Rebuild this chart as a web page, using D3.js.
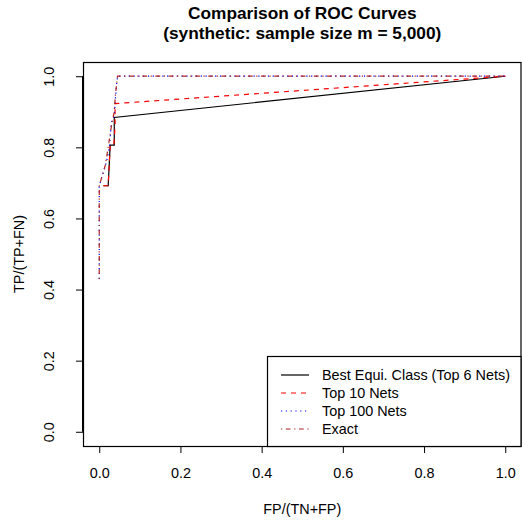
<!DOCTYPE html>
<html><head><meta charset="utf-8">
<script src="https://cdn.jsdelivr.net/npm/d3@7"></script>
<style>body{margin:0;background:#fff}svg{display:block}text{font-family:"Liberation Sans",Arial,sans-serif;fill:#000}</style>
</head><body><div id="chart"></div>
<script>
const titleLines = ["Comparison of ROC Curves", "(synthetic: sample size m = 5,000)"];
const xLabel = "FP/(TN+FP)";
const yLabel = "TP/(TP+FN)";
const xTicks = [0, 0.2, 0.4, 0.6, 0.8, 1.0];
const yTicks = [0, 0.2, 0.4, 0.6, 0.8, 1.0];
const tickLabels = ["0.0", "0.2", "0.4", "0.6", "0.8", "1.0"];
const seriesNames = ["Best Equi. Class (Top 6 Nets)", "Top 10 Nets", "Top 100 Nets", "Exact"];
const fpBest = [0.010, 0.022, 0.027, 0.037, 0.037, 1.0];
const tpBest = [0.692, 0.692, 0.806, 0.806, 0.884, 1.0];
const fpTop10 = [0.010, 0.022, 0.027, 0.036, 0.039, 0.039, 1.0];
const tpTop10 = [0.692, 0.692, 0.806, 0.806, 0.860, 0.923, 1.0];
const fpTop100 = [0.000, 0.000, 0.018, 0.025, 0.030, 0.037, 0.042, 0.045, 1.0];
const tpTop100 = [0.430, 0.692, 0.760, 0.800, 0.870, 0.890, 0.970, 1.000, 1.0];
const fpExact = [0.000, 0.000, 0.015, 0.022, 0.030, 0.037, 0.040, 0.045, 1.0];
const tpExact = [0.430, 0.692, 0.750, 0.800, 0.860, 0.900, 0.950, 1.000, 1.0];

const W = 522, H = 525;
const box = {left: 83, right: 521.5, top: 62, bottom: 446};
const svg = d3.select("#chart").append("svg").attr("width", W).attr("height", H);
const x = d3.scaleLinear().domain([-0.04, 1.04]).range([box.left, box.right]);
const y = d3.scaleLinear().domain([-0.04, 1.04]).range([box.bottom, box.top]);
const fs = 14.4;

// title
titleLines.forEach((t, i) => {
  svg.append("text").attr("x", (box.left + box.right) / 2).attr("y", 19 + i * 20)
    .attr("text-anchor", "middle").attr("font-weight", "bold").attr("font-size", 17.3).text(t);
});

// axes
const xAxis = d3.axisBottom(x).tickValues(xTicks).tickSize(7).tickPadding(0).tickFormat((d, i) => tickLabels[i]);
const gx = svg.append("g").attr("transform", `translate(0,${box.bottom})`).call(xAxis);
gx.select(".domain").attr("d", `M${x(0)},0.5H${x(1)}`);
gx.selectAll("text").attr("font-size", fs).attr("dy", null).attr("y", 32).attr("font-family", "Liberation Sans, Arial, sans-serif");

const yAxis = d3.axisLeft(y).tickValues(yTicks).tickSize(7).tickFormat((d, i) => tickLabels[i]);
const gy = svg.append("g").attr("transform", `translate(${box.left},0)`).call(yAxis);
gy.select(".domain").attr("d", `M-0.5,${y(0)}V${y(1)}`);
gy.selectAll("text").attr("font-size", fs).attr("font-family", "Liberation Sans, Arial, sans-serif")
  .attr("x", null).attr("dy", null).attr("text-anchor", "middle")
  .attr("transform", "translate(-29,0) rotate(-90)");
svg.selectAll(".tick line").attr("stroke", "#000");

// axis titles
svg.append("text").attr("x", (box.left + box.right) / 2).attr("y", 514).attr("text-anchor", "middle").attr("font-size", fs).text(xLabel);
svg.append("text").attr("transform", `translate(24,${(box.top + box.bottom) / 2}) rotate(-90)`).attr("text-anchor", "middle").attr("font-size", fs).text(yLabel);

// box
svg.append("rect").attr("x", box.left + 0.5).attr("y", box.top + 0.5).attr("width", box.right - box.left - 1).attr("height", box.bottom - box.top)
  .attr("fill", "none").attr("stroke", "#000").attr("stroke-width", 1.2);

// series
const styles = [
  {color: "#000000", dash: null},
  {color: "#ff0000", dash: "5,5"},
  {color: "#0000ff", dash: "1.2,3.6"},
  {color: "#b22222", dash: "1.2,3.6,4.8,3.6"}
];
const series = [[fpBest, tpBest], [fpTop10, tpTop10], [fpTop100, tpTop100], [fpExact, tpExact]];
const line = d3.line().x(d => x(d[0])).y(d => y(d[1]));
series.forEach((s, i) => {
  const pts = s[0].map((f, k) => [f, s[1][k]]);
  svg.append("path").attr("d", line(pts)).attr("fill", "none")
    .attr("stroke", styles[i].color).attr("stroke-width", 1.2)
    .attr("stroke-dasharray", styles[i].dash);
});

// legend
const lg = {left: 267, top: 356, bottom: box.bottom};
svg.append("rect").attr("x", lg.left + 0.5).attr("y", lg.top + 0.5).attr("width", box.right - lg.left - 1).attr("height", lg.bottom - lg.top)
  .attr("fill", "#fff").attr("stroke", "#000").attr("stroke-width", 1.2);
seriesNames.forEach((n, i) => {
  const cy = 375 + i * 18;
  svg.append("line").attr("x1", 281).attr("x2", 309).attr("y1", cy).attr("y2", cy)
    .attr("stroke", styles[i].color).attr("stroke-width", 1.2).attr("stroke-dasharray", styles[i].dash);
  svg.append("text").attr("x", 322).attr("y", cy + 5).attr("font-size", fs).text(n);
});
</script></body></html>
